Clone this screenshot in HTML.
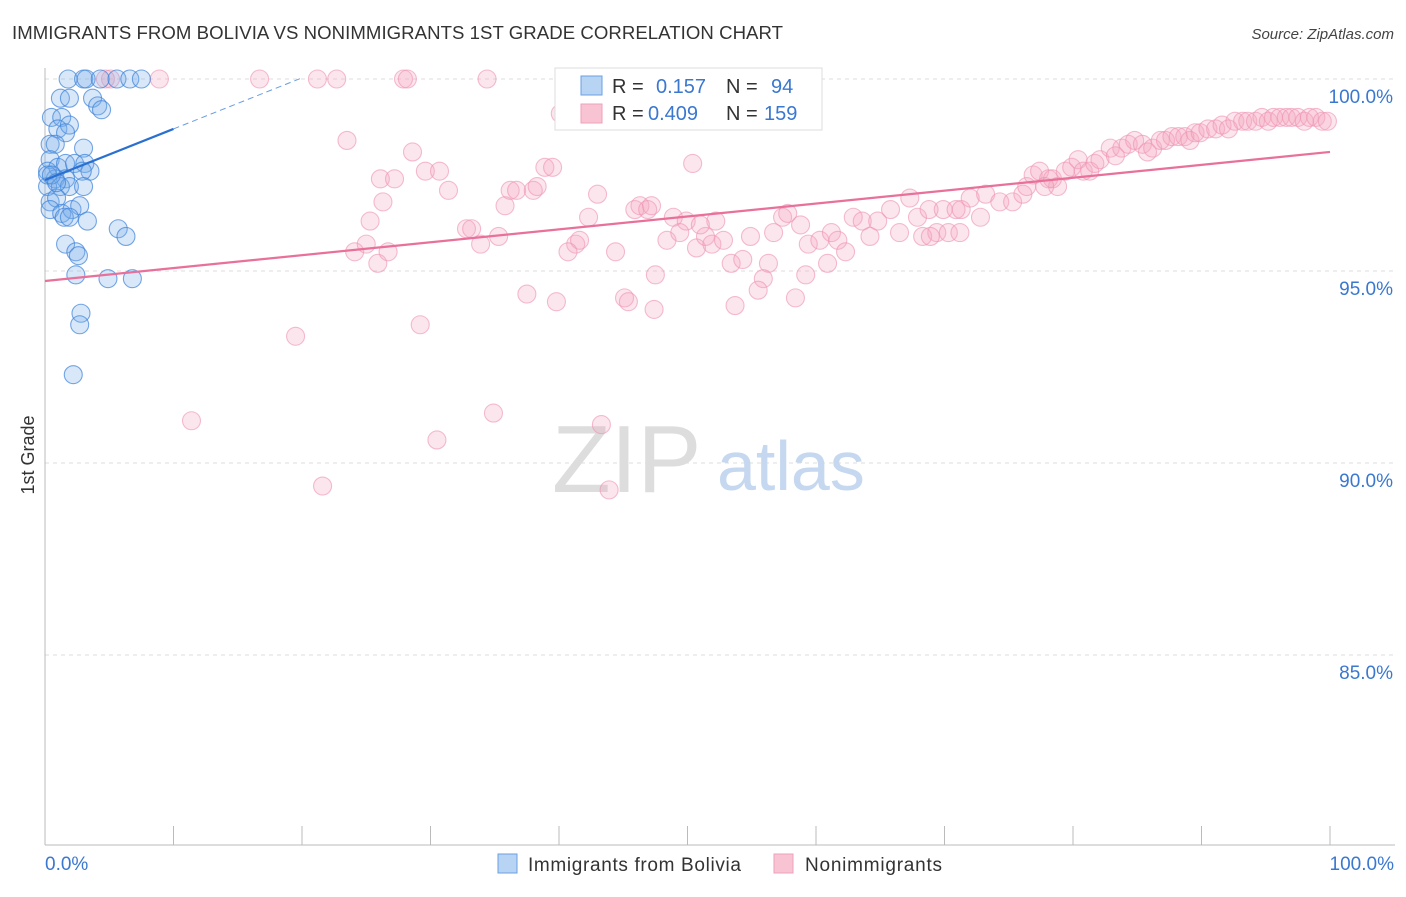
<!DOCTYPE html>
<html><head><meta charset="utf-8"><style>
body{margin:0;background:#fff;font-family:"Liberation Sans",sans-serif}
svg text{font-family:"Liberation Sans",sans-serif}
</style></head><body>
<svg id="chart" width="1406" height="892" viewBox="0 0 1406 892" xmlns="http://www.w3.org/2000/svg">
<text x="12" y="39" font-size="18.6" fill="#333" textLength="771">IMMIGRANTS FROM BOLIVIA VS NONIMMIGRANTS 1ST GRADE CORRELATION CHART</text>
<text x="1394" y="39" font-size="15" fill="#444" text-anchor="end" font-style="italic">Source: ZipAtlas.com</text>
<g id="grid"></g>
<g>
<text x="552" y="492" font-size="96" fill="#ddd" font-family="Liberation Serif">ZIP</text>
<text x="717" y="490" font-size="70" fill="#c5d8f0">atlas</text>
</g>
<line x1="45" y1="845" x2="1395" y2="845" stroke="#bbb"/>
<line x1="45" y1="68" x2="45" y2="845" stroke="#bbb"/>
<g id="ticks"></g>
<g id="pink"></g>
<g id="blue"></g>
<g id="trends"></g>
<text transform="translate(34,455) rotate(-90)" font-size="18" fill="#333" text-anchor="middle">1st Grade</text>
<text x="45" y="870" font-size="19" fill="#3a78d0">0.0%</text>
<text x="1394" y="870" font-size="19" fill="#3a78d0" text-anchor="end">100.0%</text>
<g>
<rect x="555" y="68" width="267" height="62" fill="#fff" stroke="#ddd"/>
<rect x="581" y="76" width="21" height="19" fill="#b8d4f4" stroke="#6aa0e0"/>
<rect x="581" y="104" width="21" height="19" fill="#f8c4d4" stroke="#f0a0b8"/>
<text x="612" y="93" font-size="20" fill="#333">R = </text><text x="656" y="93" font-size="20" fill="#3a78d0">0.157</text>
<text x="726" y="93" font-size="20" fill="#333">N = </text><text x="771" y="93" font-size="20" fill="#3a78d0">94</text>
<text x="612" y="120" font-size="20" fill="#333">R = </text><text x="648" y="120" font-size="20" fill="#3a78d0">0.409</text>
<text x="726" y="120" font-size="20" fill="#333">N = </text><text x="764" y="120" font-size="20" fill="#3a78d0">159</text>
</g>
<g>
<rect x="498" y="854" width="19" height="19" fill="#b8d4f4" stroke="#6aa0e0"/>
<text x="528" y="871" font-size="19" fill="#333" textLength="213">Immigrants from Bolivia</text>
<rect x="774" y="854" width="19" height="19" fill="#f8c4d4" stroke="#f0a0b8"/>
<text x="805" y="871" font-size="19" fill="#333" textLength="137">Nonimmigrants</text>
</g>
</svg>
<script>
const yTicks=[100,95,90,85];
const yTickLabels=["100.0%","95.0%","90.0%","85.0%"];
const xTicks=[0,10,20,30,40,50,60,70,80,90,100];
const blueX=[1.8,3.0,3.2,4.3,5.6,6.6,7.5,1.2,1.9,3.7,4.1,4.4,0.5,1.3,1.0,1.9,1.6,0.4,0.8,3.0,0.4,0.2,1.0,1.6,2.3,3.1,3.5,0.8,1.6,2.9,0.2,1.2,1.9,3.0,0.4,0.9,0.4,1.3,2.1,2.7,1.5,1.9,3.3,5.7,6.3,1.6,2.4,2.6,2.4,4.9,6.8,2.8,2.7,2.2,0.2,0.5,0.9];
const blueY=[100,100,100,100,100,100,100,99.5,99.5,99.5,99.3,99.2,99.0,99.0,98.7,98.8,98.6,98.3,98.3,98.2,97.9,97.6,97.7,97.8,97.8,97.8,97.6,97.4,97.4,97.6,97.2,97.2,97.2,97.2,96.8,96.9,96.6,96.5,96.6,96.7,96.4,96.4,96.3,96.1,95.9,95.7,95.5,95.4,94.9,94.8,94.8,93.9,93.6,92.3,97.5,97.5,97.3];
const pinkX=[8.9,16.7,21.2,22.7,27.9,28.2,34.4,5.1,4.7,23.5,28.6,26.1,27.2,29.6,30.7,31.4,26.3,25.3,24.1,25.0,25.9,26.7,35.8,36.2,36.7,38.0,38.3,38.9,39.5,32.8,33.2,33.9,35.3,43.0,42.3,41.3,41.6,40.7,44.4,45.9,46.3,46.9,48.9,49.9,50.4,48.4,49.4,50.7,51.4,51.9,52.2,52.8,54.9,53.4,54.3,56.3,57.4,57.8,56.7,58.8,59.4,60.3,61.2,61.7,62.3,60.9,59.2,55.9,55.5,53.7,58.4,62.9,63.6,64.8,64.2,65.8,66.5,67.3,67.9,68.3,68.8,69.4,69.9,70.3,70.9,71.3,72.0,72.8,73.2,74.3,75.3,76.1,76.4,76.9,77.4,78.1,78.8,78.4,79.4,79.9,80.4,80.8,81.3,81.7,82.1,82.9,83.3,83.8,84.3,84.8,85.4,85.8,86.2,86.8,87.2,87.7,88.2,88.7,89.1,89.5,89.9,90.5,91.1,91.6,92.1,92.6,93.2,93.6,94.2,94.7,95.2,95.6,96.1,96.6,97.0,97.5,98.0,98.4,98.9,99.4,99.8,47.5,45.1,45.4,47.4,39.8,37.5,29.2,19.5,11.4,30.5,34.9,43.3,21.6,43.9,40.1,47.2,51.0,68.9,71.2,77.8];
const pinkY=[100,100,100,100,100,100,100,100,100,98.4,98.1,97.4,97.4,97.6,97.6,97.1,96.8,96.3,95.5,95.7,95.2,95.5,96.7,97.1,97.1,97.1,97.2,97.7,97.7,96.1,96.1,95.7,95.9,97.0,96.4,95.7,95.8,95.5,95.5,96.6,96.7,96.6,96.4,96.3,97.8,95.8,96.0,95.6,95.9,95.7,96.3,95.8,95.9,95.2,95.3,95.2,96.4,96.5,96.0,96.2,95.7,95.8,96.0,95.8,95.5,95.2,94.9,94.8,94.5,94.1,94.3,96.4,96.3,96.3,95.9,96.6,96.0,96.9,96.4,95.9,96.6,96.0,96.6,96.0,96.6,96.6,96.9,96.4,97.0,96.8,96.8,97.0,97.2,97.5,97.6,97.4,97.2,97.4,97.6,97.7,97.9,97.6,97.6,97.8,97.9,98.2,98.0,98.2,98.3,98.4,98.3,98.1,98.2,98.4,98.4,98.5,98.5,98.5,98.4,98.6,98.6,98.7,98.7,98.8,98.7,98.9,98.9,98.9,98.9,99.0,98.9,99.0,99.0,99.0,99.0,99.0,98.9,99.0,99.0,98.9,98.9,94.9,94.3,94.2,94.0,94.2,94.4,93.6,93.3,91.1,90.6,91.3,91.0,89.4,89.3,99.1,96.7,96.2,95.9,96.0,97.2];
const blueTrend=[97.37,0.133];
const pinkTrend=[94.74,0.0336];
const NS='http://www.w3.org/2000/svg';
const X=v=>45+v*12.85;
const Y=v=>79+(100-v)*38.4;
function mk(tag,attrs,parent){const e=document.createElementNS(NS,tag);for(const k in attrs)e.setAttribute(k,attrs[k]);parent.appendChild(e);return e;}
const grid=document.getElementById('grid');
yTicks.forEach((t,i)=>{
 const l=mk('line',{x1:45,x2:1395,y1:Y(t),y2:Y(t),stroke:'#ddd','stroke-dasharray':'4,4'},grid);
 
 
 const tx=mk('text',{x:1393,y:Y(t)+24,'font-size':19,fill:'#3a78d0','text-anchor':'end'},grid);
 tx.textContent=yTickLabels[i];
 
 
});
const ticks=document.getElementById('ticks');
xTicks.forEach(t=>{
 const l=mk('line',{x1:X(t),x2:X(t),y1:826,y2:845,stroke:'#bbb'},ticks);
 
 
});
function pts(xs,ys,g,fill,stroke,name){
 xs.forEach((x,i)=>{
  const c=mk('circle',{cx:X(x),cy:Y(ys[i]),r:9,fill:fill,stroke:stroke,'stroke-width':1.1},g);
  
  
 });
}
pts(pinkX,pinkY,document.getElementById('pink'),'rgba(246,165,192,0.28)','rgba(238,145,178,0.6)','nonimmigrant-point');
pts(blueX,blueY,document.getElementById('blue'),'rgba(120,172,235,0.28)','rgba(60,130,218,0.7)','bolivia-point');
const tr=document.getElementById('trends');
const pl=mk('line',{x1:X(0),y1:Y(pinkTrend[0]),x2:X(100),y2:Y(pinkTrend[0]+pinkTrend[1]*100),stroke:'#e8709a','stroke-width':2.2},tr);


const bl=mk('line',{x1:X(0),y1:Y(blueTrend[0]),x2:X(10),y2:Y(blueTrend[0]+blueTrend[1]*10),stroke:'#2a70d0','stroke-width':2.2},tr);


const bd=mk('line',{x1:X(10),y1:Y(blueTrend[0]+blueTrend[1]*10),x2:X(20),y2:Y(blueTrend[0]+blueTrend[1]*20),stroke:'#6a9de0','stroke-width':1,'stroke-dasharray':'6,4'},tr);


</script>
</body></html>
